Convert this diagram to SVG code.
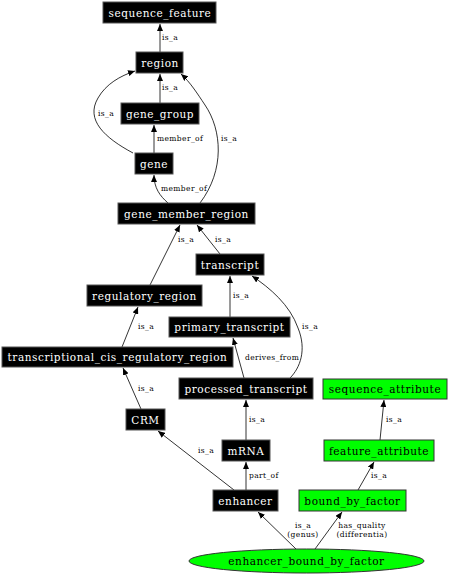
<svg xmlns="http://www.w3.org/2000/svg" width="449" height="576" viewBox="0 0 449 576">
<style>
.n rect{fill:#000;stroke:#555;stroke-width:1}
.g rect{fill:#00ff00;stroke:#333;stroke-width:1}
.g ellipse{fill:#00ff00;stroke:#333;stroke-width:1}
.n text{fill:#fff;font-family:"DejaVu Serif",serif;font-size:10.5px;letter-spacing:0.55px;text-anchor:middle}
.g text{fill:#000;font-family:"DejaVu Serif",serif;font-size:10.5px;letter-spacing:0.55px;text-anchor:middle}
#edges path{fill:none;stroke:#000;stroke-width:0.8;marker-end:url(#ah)}
#edges text{font-family:"DejaVu Serif",serif;font-size:7.5px;letter-spacing:0.4px;fill:#000}
</style>
<defs>
<marker id="ah" markerUnits="userSpaceOnUse" markerWidth="8" markerHeight="6" refX="7" refY="3" orient="auto">
<path d="M0,0 L7,3 L0,6 z" fill="#000"/>
</marker>
</defs>
<rect width="449" height="576" fill="#fff"/>
<g id="edges">
<path d="M160,52 L160,24"/><text x="162" y="40">is_a</text>
<path d="M160,103 L160,74"/><text x="162" y="90">is_a</text>
<path d="M133,153 C105,138 85,120 98,98 C106,84 120,76 135,71"/><text x="98" y="116">is_a</text>
<path d="M154,153 L154,125"/><text x="157" y="141">member_of</text>
<path d="M168,203 C160,196 154,188 154,175"/><text x="161" y="191">member_of</text>
<path d="M200,203 C225,170 222,130 205,105 C197,93 190,82 181,74"/><text x="221" y="141">is_a</text>
<path d="M150,285 L180,225"/><text x="178" y="242">is_a</text>
<path d="M220,254 L197,225"/><text x="215" y="242">is_a</text>
<path d="M230,317 L230,276"/><text x="233" y="298">is_a</text>
<path d="M290,378 C300,368 307,350 298,328 C290,305 270,288 252,276"/><text x="302" y="329">is_a</text>
<path d="M244,378 L233,338"/><text x="245" y="360">derives_from</text>
<path d="M122,347 L138,307"/><text x="138" y="329">is_a</text>
<path d="M141,409 L123,368"/><text x="138" y="391">is_a</text>
<path d="M246,440 L246,400"/><text x="249" y="422">is_a</text>
<path d="M234,490 L158,431"/><text x="198" y="453">is_a</text>
<path d="M246,490 L246,462"/><text x="249" y="478">part_of</text>
<path d="M380,440 L384,400"/><text x="386" y="422">is_a</text>
<path d="M358,490 L374,462"/><text x="371" y="478">is_a</text>
<path d="M296,549 L258,512"/><text x="303" y="528" text-anchor="middle"><tspan x="303">is_a</tspan><tspan x="303" dy="9">(genus)</tspan></text>
<path d="M315,549 L342,512"/><text x="362" y="528" text-anchor="middle"><tspan x="362">has_quality</tspan><tspan x="362" dy="9">(differentia)</tspan></text>
</g>
<g id="sequence_feature" class="n"><rect x="103" y="2" width="113" height="21"/><text x="160" y="16.5">sequence_feature</text></g>
<g id="region" class="n"><rect x="136" y="52" width="47" height="21"/><text x="160" y="66.5">region</text></g>
<g id="gene_group" class="n"><rect x="121" y="103" width="78" height="21"/><text x="160" y="117.5">gene_group</text></g>
<g id="gene" class="n"><rect x="135" y="153" width="38" height="21"/><text x="154" y="167.5">gene</text></g>
<g id="gene_member_region" class="n"><rect x="118" y="203" width="137" height="21"/><text x="186.5" y="217.5">gene_member_region</text></g>
<g id="transcript" class="n"><rect x="196" y="254" width="68" height="21"/><text x="230" y="268.5">transcript</text></g>
<g id="regulatory_region" class="n"><rect x="87" y="285" width="115" height="21"/><text x="144.5" y="299.5">regulatory_region</text></g>
<g id="primary_transcript" class="n"><rect x="169" y="317" width="121" height="20"/><text x="229.5" y="331">primary_transcript</text></g>
<g id="transcriptional_cis_regulatory_region" class="n"><rect x="2" y="347" width="231" height="20"/><text x="117.5" y="361">transcriptional_cis_regulatory_region</text></g>
<g id="processed_transcript" class="n"><rect x="179" y="378" width="134" height="21"/><text x="246" y="392.5">processed_transcript</text></g>
<g id="sequence_attribute" class="g"><rect x="323" y="379" width="124" height="20"/><text x="385" y="393">sequence_attribute</text></g>
<g id="CRM" class="n"><rect x="126" y="409" width="39" height="21"/><text x="145.5" y="423.5">CRM</text></g>
<g id="mRNA" class="n"><rect x="222" y="440" width="48" height="21"/><text x="246" y="454.5">mRNA</text></g>
<g id="feature_attribute" class="g"><rect x="324" y="440" width="110" height="21"/><text x="379" y="454.5">feature_attribute</text></g>
<g id="enhancer" class="n"><rect x="213" y="490" width="65" height="21"/><text x="245.5" y="504.5">enhancer</text></g>
<g id="bound_by_factor" class="g"><rect x="299" y="490" width="107" height="21"/><text x="352.5" y="504.5">bound_by_factor</text></g>
<g id="enhancer_bound_by_factor" class="g"><ellipse cx="306.5" cy="561" rx="117.5" ry="12"/><text x="306.5" y="565">enhancer_bound_by_factor</text></g>
</svg>
